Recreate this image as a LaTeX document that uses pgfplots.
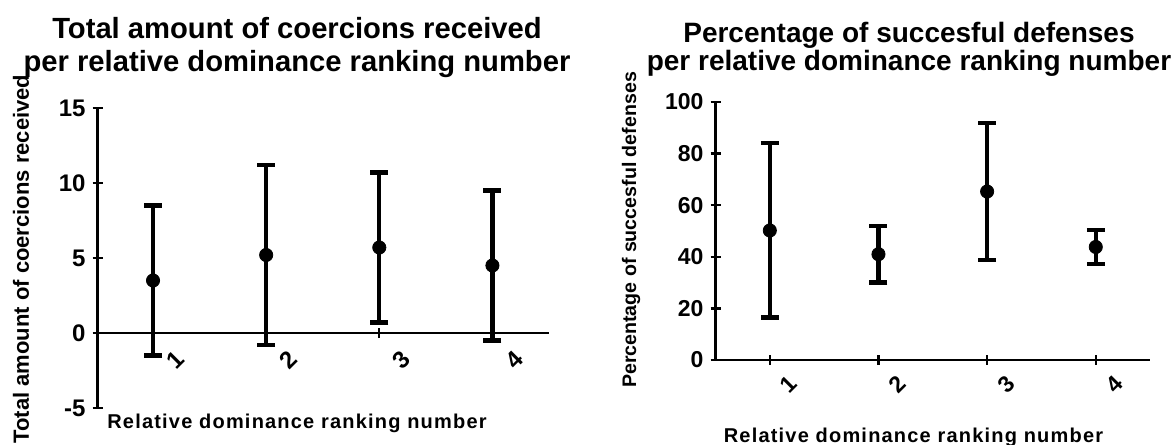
\documentclass[border=0pt]{standalone}
\usepackage{fontspec}
\setmainfont{Liberation Sans}
\usepackage{pgfplots}
\pgfplotsset{compat=1.18}
\begin{document}
\begin{tikzpicture}
\path[use as bounding box] (0pt,0pt) rectangle (587.5pt,222.5pt);
\pgfplotsset{
  gp/.style={
    scale only axis,
    anchor=south west,
    xtick={1,2,3,4},
    tick style={line width=1.2pt, black},
    tick align=outside,
    major tick length=5pt,
    /pgf/number format/assume math mode=true,
    hide obscured x ticks=false,
    hide obscured y ticks=false,
    clip=false,
  },
  gpplot/.style={
    only marks, mark=*, mark size=3.3pt, black,
    mark options={fill=black, draw=black},
    error bars/.cd, y dir=both, y explicit,
    error bar style={line width=2.2pt, black},
    error mark options={rotate=90, mark size=4.5pt, line width=2.2pt, black},
  },
}
% Left chart
\begin{axis}[gp,
  at={(48.8pt,18.5pt)},
  width=225.7pt, height=150pt,
  xmin=0.51, xmax=4.5,
  ymin=-5, ymax=15, ytick={-5,0,5,10,15},
  axis x line=middle, axis y line=left,
  axis line style={-, line width=1.2pt},
  x axis line style={-}, y axis line style={-},
  yticklabel style={font=\bfseries\fontsize{12}{13}\selectfont},
  xticklabel style={font=\bfseries\fontsize{12}{13}\selectfont, rotate=45, anchor=center, yshift=-15.5pt},
]
\addplot[gpplot] table[x=x, y=y, y error plus=ep, y error minus=em] {
x y ep em
1 3.5 5.0 5.0
2 5.2 6.0 6.0
3 5.7 5.0 5.0
4 4.5 5.0 5.0
};
\end{axis}
% Right chart
\begin{axis}[gp,
  at={(357.75pt,42.5pt)},
  width=217.3pt, height=129pt,
  xmin=0.5, xmax=4.5,
  ymin=0, ymax=100, ytick={0,20,40,60,80,100},
  axis x line=bottom, axis y line=left,
  axis line style={-, line width=1.2pt},
  x axis line style={-}, y axis line style={-},
  yticklabel style={font=\bfseries\fontsize{11.5}{13}\selectfont},
  xticklabel style={font=\bfseries\fontsize{11.5}{13}\selectfont, rotate=45, anchor=center, yshift=-13.5pt},
]
\addplot[gpplot] table[x=x, y=y, y error plus=ep, y error minus=em] {
x y ep em
1 50.2 33.8 33.8
2 41.0 11.0 11.0
3 65.3 26.6 26.6
4 43.8 6.6 6.6
};
\end{axis}
% Titles and labels
\node[anchor=base, font=\bfseries\fontsize{14.6}{16}\selectfont] at (148.5pt,203pt) {Total amount of coercions received};
\node[anchor=base, font=\bfseries\fontsize{14.6}{16}\selectfont] at (148.5pt,186.5pt) {per relative dominance ranking number};
\node[anchor=base, font=\bfseries\fontsize{14}{16}\selectfont] at (454.5pt,201pt) {Percentage of succesful defenses};
\node[anchor=base, font=\bfseries\fontsize{14}{16}\selectfont] at (454.5pt,187pt) {per relative dominance ranking number};
\node[font=\bfseries\fontsize{10}{12}\selectfont\addfontfeature{LetterSpace=6}] at (148.5pt,11pt) {Relative dominance ranking number};
\node[font=\bfseries\fontsize{11}{12}\selectfont, rotate=90] at (10.5pt,93pt) {Total amount of coercions received};
\node[font=\bfseries\fontsize{10}{12}\selectfont\addfontfeature{LetterSpace=6}] at (456.75pt,4pt) {Relative dominance ranking number};
\node[font=\bfseries\fontsize{9.8}{12}\selectfont, rotate=90] at (315.5pt,107.5pt) {Percentage of succesful defenses};
\end{tikzpicture}
\end{document}
